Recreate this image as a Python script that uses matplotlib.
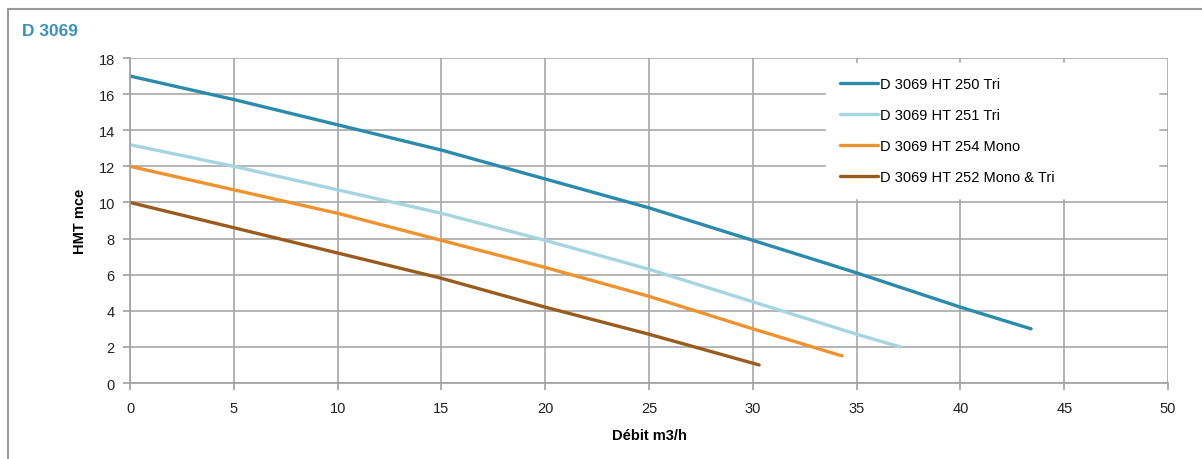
import numpy as np
import matplotlib.pyplot as plt
from matplotlib.patches import Rectangle

# debit (m3/h) / HMT (mce) points
q_250 = [0, 5, 10, 15, 20, 25, 30, 35, 40, 43.4]
h_250 = [17.0, 15.7, 14.3, 12.9, 11.3, 9.7, 7.9, 6.1, 4.2, 3.0]

q_251 = [0, 5, 10, 15, 20, 25, 30, 35, 37.1]
h_251 = [13.2, 12.0, 10.7, 9.4, 7.9, 6.3, 4.5, 2.7, 2.0]

q_254 = [0, 5, 10, 15, 20, 25, 30, 34.3]
h_254 = [12.0, 10.7, 9.4, 7.9, 6.4, 4.8, 3.0, 1.5]

q_252 = [0, 5, 10, 15, 20, 25, 30.3]
h_252 = [10.0, 8.6, 7.2, 5.8, 4.2, 2.7, 1.0]

labels = ['D 3069 HT 250 Tri', 'D 3069 HT 251 Tri',
          'D 3069 HT 254 Mono', 'D 3069 HT 252 Mono & Tri']
colors = ['#2b8bad', '#a5d5e1', '#f0922d', '#9a5b1e']

plt.rcParams['font.family'] = ['Liberation Sans', 'DejaVu Sans']

fig = plt.figure(figsize=(12.02, 4.6), dpi=100)
# outer frame of the card
fig.patches.append(Rectangle((8/1202, -0.05), 1.1, 1 - 10/460 + 0.05,
                             transform=fig.transFigure, fill=False,
                             edgecolor='#9a9a9a', linewidth=1.5))
fig.text(22/1202, 1 - 32/460, 'D 3069', color='#3a8fc2', fontsize=12.5,
         fontweight='bold', va='center', ha='left')

ax = fig.add_axes([0.1082, 0.1652, 0.8636, 0.7065])
series = [(q_250, h_250), (q_251, h_251), (q_254, h_254), (q_252, h_252)]
for (q, h), lab, c in zip(series, labels, colors):
    ax.plot(q, h, color=c, linewidth=2.4, label=lab, solid_capstyle='round')

ax.set_xlim(0, 50)
ax.set_ylim(0, 18)
ax.set_xticks(np.arange(0, 51, 5))
ax.set_yticks(np.arange(0, 19, 2))
ax.grid(True, color='#a8a8a8', linewidth=1.2)
ax.set_axisbelow(True)
for s in ['top', 'right']:
    ax.spines[s].set_visible(False)
for s in ['left', 'bottom']:
    ax.spines[s].set_color('#a0a0a0')
    ax.spines[s].set_linewidth(1.2)
ax.tick_params(colors='#a0a0a0', labelcolor='#222222', labelsize=10.5,
               length=5, width=1.2)
ax.tick_params(axis='x', pad=8)
ax.tick_params(axis='y', pad=6)
ax.set_xlabel('Débit m3/h', fontsize=10.5, fontweight='bold', labelpad=9)
ax.set_ylabel('HMT mce', fontsize=10.5, fontweight='bold', labelpad=8)

leg = ax.legend(loc='upper left', bbox_to_anchor=(0.670, 0.585, 0.32, 0.40),
                mode='expand', frameon=True,
                fontsize=10.5, handlelength=2.6, handletextpad=0.1,
                labelspacing=1.15, borderpad=1.0, borderaxespad=0,
                fancybox=False)
leg.get_frame().set_facecolor('white')
leg.get_frame().set_edgecolor('white')
leg.get_frame().set_alpha(1)

fig.savefig('out.png', dpi=100)
